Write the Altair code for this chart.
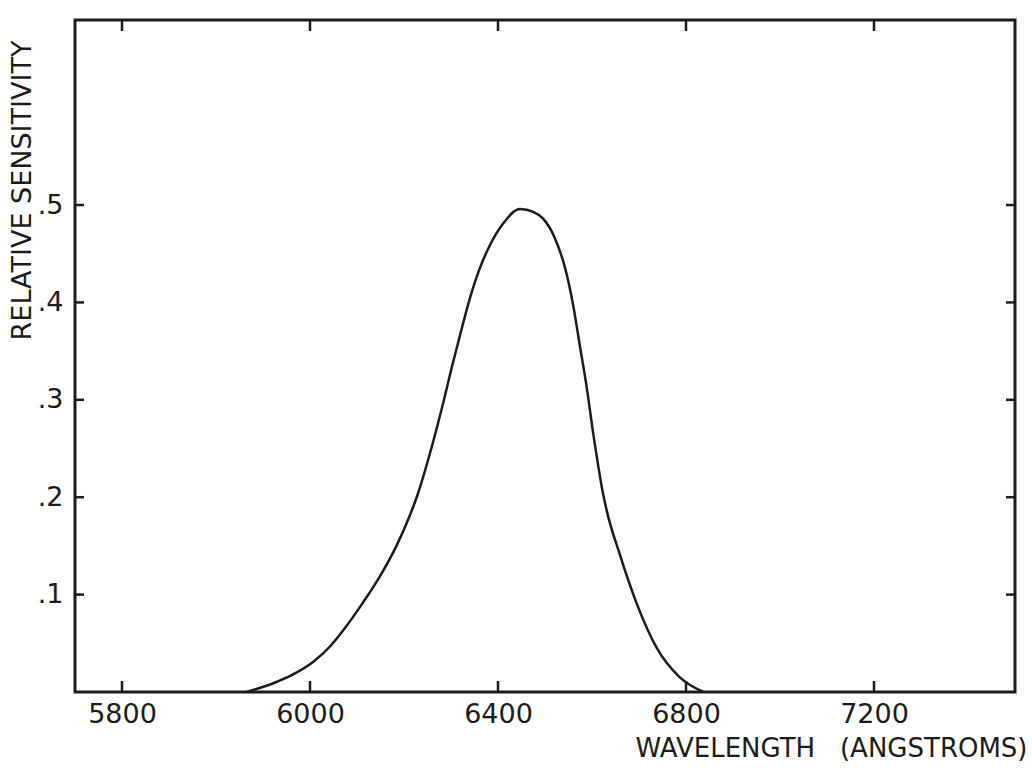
import altair as alt
import pandas as pd

# Curve
wavelength = [5865, 5922, 5964, 6007, 6043, 6078, 6113, 6149, 6184, 6213, 6227,
              6262, 6284, 6301, 6319, 6340, 6362, 6383, 6411, 6447, 6475, 6496,
              6521, 6543, 6560, 6574, 6589, 6603, 6612, 6621, 6631, 6660, 6695, 6738,
              6787, 6837]
sensitivity = [0.0, 0.009, 0.018, 0.031, 0.047, 0.068, 0.092, 0.119, 0.150, 0.182, 0.200,
               0.257, 0.298, 0.332, 0.366, 0.404, 0.436, 0.459, 0.481, 0.496, 0.493, 0.486,
               0.466, 0.435, 0.397, 0.356, 0.312, 0.264, 0.236, 0.210, 0.187, 0.140, 0.091, 0.045,
               0.015, 0.0]

# Axis ticks (the original's first label reads 5800 at the 5600 position)
x_tick_values = [5600, 6000, 6400, 6800, 7200]
x_tick_labels = ["5800", "6000", "6400", "6800", "7200"]
y_tick_values = [0.1, 0.2, 0.3, 0.4, 0.5]
y_tick_labels = [".1", ".2", ".3", ".4", ".5"]

x_domain = [5500, 7500]
y_domain = [0, 0.69]

W, H = 940, 672
FONT = "DejaVu Sans"
INK = "#1c1c1c"
NB = "\u00a0"


def ternary(values, labels):
    expr = "''"
    for v, l in reversed(list(zip(values, labels))):
        expr = f"abs(datum.value - {v}) < 1e-6 ? '{l}' : ({expr})"
    return expr


curve = pd.DataFrame({"wavelength": wavelength, "sensitivity": sensitivity})
xticks = pd.DataFrame({"wavelength": x_tick_values})
yticks = pd.DataFrame({"sensitivity": y_tick_values})

xs = alt.Scale(domain=x_domain, nice=False, zero=False)
ys = alt.Scale(domain=y_domain, nice=False, zero=False)

xaxis = alt.Axis(
    title="WAVELENGTH" + NB * 3 + "(ANGSTROMS)",
    values=x_tick_values,
    labelExpr=ternary(x_tick_values, x_tick_labels),
    labelFontSize=27, labelFont=FONT, labelColor=INK, labelPadding=9,
    titleFontSize=26, titleFont=FONT, titleColor=INK, titleFontWeight="normal",
    titleX=952, titleY=56, titleAlign="right", titleBaseline="middle",
    ticks=False, domain=False, grid=False,
)
yaxis = alt.Axis(
    title="RELATIVE SENSITIVITY",
    values=y_tick_values,
    labelExpr=ternary(y_tick_values, y_tick_labels),
    labelFontSize=27, labelFont=FONT, labelColor=INK, labelPadding=12,
    titleFontSize=27, titleFont=FONT, titleColor=INK, titleFontWeight="normal",
    titleX=-53, titleY=170, titleAngle=270, titleAlign="center", titleBaseline="middle",
    ticks=False, domain=False, grid=False,
)

line = alt.Chart(curve).mark_line(color=INK, strokeWidth=2.5, interpolate="monotone").encode(
    x=alt.X("wavelength:Q", scale=xs, axis=xaxis),
    y=alt.Y("sensitivity:Q", scale=ys, axis=yaxis),
)

bottom_ticks = alt.Chart(xticks).mark_rule(color=INK, strokeWidth=2.5).encode(
    x=alt.X("wavelength:Q", scale=xs, axis=xaxis),
    y=alt.value(H), y2=alt.value(H - 11),
)
top_ticks = alt.Chart(xticks).mark_rule(color=INK, strokeWidth=2.5).encode(
    x=alt.X("wavelength:Q", scale=xs, axis=xaxis),
    y=alt.value(0), y2=alt.value(11),
)
left_ticks = alt.Chart(yticks).mark_rule(color=INK, strokeWidth=2.5).encode(
    y=alt.Y("sensitivity:Q", scale=ys, axis=yaxis),
    x=alt.value(0), x2=alt.value(9),
)
right_ticks = alt.Chart(yticks).mark_rule(color=INK, strokeWidth=2.5).encode(
    y=alt.Y("sensitivity:Q", scale=ys, axis=yaxis),
    x=alt.value(W), x2=alt.value(W - 9),
)

chart = alt.layer(line, bottom_ticks, top_ticks, left_ticks, right_ticks).properties(
    width=W, height=H,
    padding={"left": 75, "top": 20, "right": 17, "bottom": 76},
    autosize=alt.AutoSizeParams(type="none"),
    background="white",
).configure_view(stroke=INK, strokeWidth=3)

chart.save("out.html", embed_options={"renderer": "svg", "actions": False})
